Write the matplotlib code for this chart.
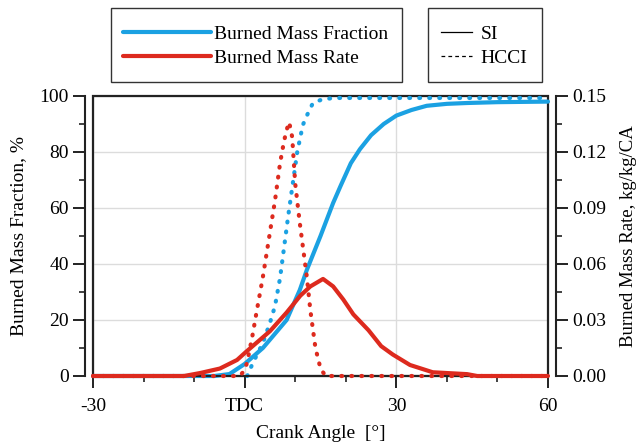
import matplotlib
matplotlib.use('Agg')
import matplotlib.pyplot as plt
from matplotlib.lines import Line2D
from matplotlib.patches import Rectangle

plt.rcParams['font.family'] = ['Liberation Serif', 'DejaVu Serif']
plt.rcParams['font.size'] = 14

BLUE = '#1ba1e2'
RED = '#dd2a1e'
FRAME = '#222222'

# SI burned mass fraction [%]
si_bmf_ca = [-30, -6, -3, 0, 3.6, 8.3, 10.9, 12.3, 15, 17.5, 19, 21, 22.8, 25, 27.5, 30, 33, 36, 40, 44, 50, 60]
si_bmf = [0, 0, 0.7, 4.3, 10, 20, 30.7, 37.9, 50, 61.8, 68, 76, 81, 86, 90, 93, 95, 96.5, 97.2, 97.5, 97.8, 98]

# HCCI burned mass fraction [%]
hcci_bmf_ca = [0.5, 1.6, 3.6, 5, 6, 7, 8.6, 10.4, 11.5, 12.3, 13.5, 15.5, 18, 60]
hcci_bmf = [0, 4.6, 11.8, 19, 25, 35, 57, 80, 89.6, 93, 97.5, 98.9, 99.3, 99.3]

# SI burned mass rate [kg/kg/CA]
si_rate_ca = [-30, -12, -8.8, -4.9, -1.5, 0.3, 5, 8.3, 11, 13, 15.5, 17.5, 19.5, 21.5, 24.5, 27, 29.3, 32.7, 37.2, 44, 46, 60]
si_rate = [0, 0, 0.0016, 0.004, 0.0086, 0.013, 0.024, 0.034, 0.043, 0.048, 0.052, 0.048, 0.041,
           0.033, 0.0245, 0.016, 0.0115, 0.0059, 0.002, 0.001, 0, 0]

# HCCI burned mass rate [kg/kg/CA]
hcci_rate_ca = [-30, -1, 0, 0.5, 1.5, 2.4, 3.6, 5, 6, 7, 7.6, 8.2, 8.8, 9.4, 10, 10.9, 12.3, 13, 14, 15, 16, 60]
hcci_rate = [0, 0, 0.003, 0.0075, 0.021, 0.035, 0.053, 0.077, 0.094, 0.114, 0.123, 0.131, 0.136, 0.128,
             0.103, 0.082, 0.053, 0.035, 0.015, 0.004, 0, 0]

x_ticks = [-30, 0, 30, 60]
x_labels = ['-30', 'TDC', '30', '60']

DOT = dict(linestyle=(0, (0.2, 2.2)), dash_capstyle='round')

fig = plt.figure(figsize=(6.41, 4.47), dpi=100)
ax = fig.add_axes([93 / 641, 1 - 376 / 447, 455 / 641, 280 / 447])
ax2 = ax.twinx()

ax.plot(si_bmf_ca, si_bmf, color=BLUE, lw=3, solid_capstyle='round', clip_on=False)
ax.plot(hcci_bmf_ca, hcci_bmf, color=BLUE, lw=3, clip_on=False, **DOT)
ax2.plot(hcci_rate_ca, hcci_rate, color=RED, lw=3, clip_on=False, **DOT)
ax2.plot(si_rate_ca, si_rate, color=RED, lw=3, solid_capstyle='round', clip_on=False)

ax.set_xlim(-30, 60)
ax.set_ylim(0, 100)
ax2.set_ylim(0, 0.15)

ax.set_xticks(x_ticks)
ax.set_xticklabels(x_labels)
ax.set_xticks(range(-30, 61, 10), minor=True)
ax.set_yticks(range(0, 101, 20))
ax.set_yticks(range(10, 100, 20), minor=True)
ax2.set_yticks([0, 0.03, 0.06, 0.09, 0.12, 0.15])
ax2.set_yticklabels(['0.00', '0.03', '0.06', '0.09', '0.12', '0.15'])
ax2.set_yticks([0.015, 0.045, 0.075, 0.105, 0.135], minor=True)

for a in (ax, ax2):
    a.tick_params(which='major', direction='out', length=8.6, width=1.4, color=FRAME, pad=3)
    a.tick_params(which='minor', direction='out', length=4.3, width=1.2, color=FRAME)
    for s in a.spines.values():
        s.set_visible(False)
        s.set_linewidth(1.5)
        s.set_color(FRAME)
ax.tick_params(axis='x', which='major', pad=7)

ax.spines['left'].set_visible(True)
ax.spines['left'].set_position(('outward', 5.8))
ax.spines['bottom'].set_visible(True)
ax2.spines['right'].set_visible(True)
ax2.spines['right'].set_position(('outward', 5.8))

ax.grid(True, which='major', color='#dcdcdc', lw=1)
ax.set_axisbelow(True)
ax.add_patch(Rectangle((0, 0), 1, 1, transform=ax.transAxes, fill=False, lw=1.6,
                       ec=FRAME, clip_on=False, zorder=1))

ax.set_xlabel('Crank Angle  [°]')
ax.xaxis.set_label_coords(0.5, -0.175)
ax.set_ylabel('Burned Mass Fraction, %')
ax.yaxis.set_label_coords(-0.145, 0.5)
ax2.set_ylabel('Burned Mass Rate, kg/kg/CA', rotation=90, fontsize=13.5)
ax2.yaxis.set_label_coords(1.158, 0.5)

# legend frames drawn in figure pixels
for x0, x1 in [(111, 402), (428, 542)]:
    fig.add_artist(Rectangle((x0 / 641, 1 - 82 / 447), (x1 - x0) / 641, 74 / 447,
                             transform=fig.transFigure, fill=False, lw=1, ec='#333333'))

h1 = [Line2D([], [], color=BLUE, lw=3, solid_capstyle='round'),
      Line2D([], [], color=RED, lw=3, solid_capstyle='round')]
fig.legend(h1, ['Burned Mass Fraction', 'Burned Mass Rate'], loc='upper left',
           bbox_to_anchor=(123 / 641, 1 - 25 / 447), frameon=False, borderpad=0,
           borderaxespad=0, handlelength=4.5, handletextpad=0.2, labelspacing=0.35)

h2 = [Line2D([], [], color='black', lw=0.9),
      Line2D([], [], color='black', lw=0.9, linestyle=(0, (3, 2.5)))]
fig.legend(h2, ['SI', 'HCCI'], loc='upper left',
           bbox_to_anchor=(441 / 641, 1 - 25 / 447), frameon=False, borderpad=0,
           borderaxespad=0, handlelength=1.6, handletextpad=0.45, labelspacing=0.35)

fig.savefig('out.png', dpi=100)
